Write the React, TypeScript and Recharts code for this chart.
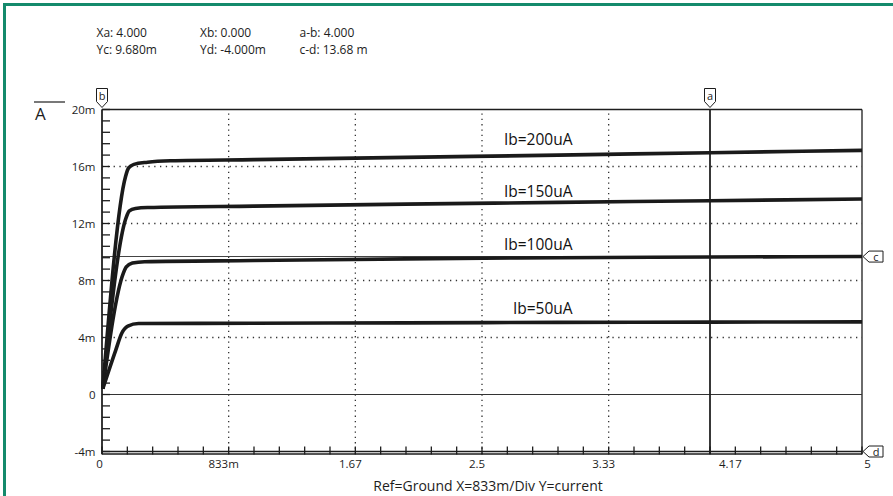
import React from 'react';
import { LineChart, Line, XAxis, YAxis, ReferenceLine, ReferenceDot } from 'recharts';

// Vce (V) and Ic (mA), one curve per base current
const vce200 = [0.005, 0.155, 0.175, 0.21, 0.3, 0.45, 1, 2, 3, 4, 5];
const ic200 = [0.4, 15.3, 15.9, 16.15, 16.3, 16.4, 16.48, 16.64, 16.8, 16.97, 17.13];

const vce150 = [0.005, 0.16, 0.18, 0.22, 0.3, 1, 2, 3, 4, 5];
const ic150 = [0.4, 12.45, 12.88, 13.05, 13.12, 13.22, 13.36, 13.48, 13.6, 13.72];

const vce100 = [0.005, 0.14, 0.16, 0.2, 0.28, 1, 2, 3, 4, 5];
const ic100 = [0.4, 8.5, 8.95, 9.22, 9.32, 9.4, 9.52, 9.6, 9.65, 9.68];

const vce50 = [0.005, 0.09, 0.13, 0.17, 0.24, 1, 2, 3, 4, 5];
const ic50 = [0.4, 3.1, 4.3, 4.8, 4.98, 5.0, 5.03, 5.06, 5.08, 5.1];

const curveNames = ['Ib=200uA', 'Ib=150uA', 'Ib=100uA', 'Ib=50uA'];
const curveLabelX = [2.87, 2.87, 2.87, 2.9];
const curveLabelY = [17.86, 14.23, 10.56, 6.07];

const xMajor = [0, 0.8333, 1.6667, 2.5, 3.3333, 4.1667, 5];
const xTickLabels = ['0', '833m', '1.67', '2.5', '3.33', '4.17', '5'];
const xGrid = [0.8333, 1.6667, 2.5, 3.3333];

const yMajor = [-4, 0, 4, 8, 12, 16, 20];
const yTickLabels = ['-4m', '0', '4m', '8m', '12m', '16m', '20m'];
const yGrid = [4, 8, 12, 16];

// cursors
const cursorA = 4;
const cursorB = 0;
const cursorC = 9.68;
const cursorD = -4;

const readouts = [
  ['Xa: 4.000', 'Xb: 0.000', 'a-b: 4.000'],
  ['Yc: 9.680m', 'Yd: -4.000m', 'c-d: 13.68 m'],
];

const xMinor = Array.from({ length: 31 }, (_, i) => i / 6);
const yMinor = Array.from({ length: 31 }, (_, i) => Math.round((-4 + i * 0.8) * 100) / 100);

const toPoints = (xs: number[], ys: number[]) => xs.map((x, i) => ({ x, y: ys[i] }));
const curves = [
  toPoints(vce200, ic200),
  toPoints(vce150, ic150),
  toPoints(vce100, ic100),
  toPoints(vce50, ic50),
];

const W = 893;
const H = 496;
const PLOT_LEFT = 102;
const PLOT_RIGHT = 862;
const PLOT_TOP = 109.5;
const PLOT_BOTTOM = 454;
const INK = '#1d1d1d';
const FONT = '"Open Sans", sans-serif';

const isMajor = (list: number[], v: number) => list.findIndex((m) => Math.abs(m - v) < 0.01);

function YTick(props: any) {
  const { y, payload } = props;
  const idx = isMajor(yMajor, payload.value);
  return (
    <g>
      <line x1={PLOT_LEFT} x2={PLOT_LEFT + 8} y1={y} y2={y} stroke={INK} strokeWidth={1.3} />
      {idx >= 0 && (
        <text x={PLOT_LEFT - 6.5} y={y} dy={4} textAnchor="end" fontSize={11.5} fill={INK}>
          {yTickLabels[idx]}
        </text>
      )}
    </g>
  );
}

function XTick(props: any) {
  const { x, payload } = props;
  const idx = isMajor(xMajor, payload.value);
  const dx = idx === xMajor.length - 1 ? 5.5 : idx === 0 ? -2.5 : -5;
  return (
    <g>
      <line x1={x} x2={x} y1={PLOT_BOTTOM - 7.5} y2={PLOT_BOTTOM + 0.5} stroke={INK} strokeWidth={1.3} />
      {idx >= 0 && (
        <text x={x + dx} y={PLOT_BOTTOM + 14} textAnchor="middle" fontSize={11.5} fill={INK}>
          {xTickLabels[idx]}
        </text>
      )}
    </g>
  );
}

function TopFlag(props: any) {
  const { viewBox, letter } = props;
  const x = viewBox.x;
  const y = viewBox.y - 2;
  const d = `M${x},${y} L${x - 5.5},${y - 6} L${x - 5.5},${y - 19} L${x + 5.5},${y - 19} L${x + 5.5},${y - 6} Z`;
  return (
    <g>
      <path d={d} fill="#fff" stroke={INK} strokeWidth={1} />
      <text x={x} y={y - 8} textAnchor="middle" fontSize={11} fill={INK}>
        {letter}
      </text>
    </g>
  );
}

function SideFlag(props: any) {
  const { viewBox, letter } = props;
  const x = viewBox.x + viewBox.width + 1;
  const y = viewBox.y;
  const d = `M${x},${y} L${x + 6},${y - 5.5} L${x + 20},${y - 5.5} L${x + 20},${y + 5.5} L${x + 6},${y + 5.5} Z`;
  return (
    <g>
      <path d={d} fill="#fff" stroke={INK} strokeWidth={1} />
      <text x={x + 13} y={y + 4} textAnchor="middle" fontSize={11} fill={INK}>
        {letter}
      </text>
    </g>
  );
}

export default function App() {
  return (
    <div
      style={{
        position: 'absolute',
        left: 0,
        top: 0,
        width: W,
        height: H,
        background: '#fff',
        fontFamily: FONT,
        overflow: 'hidden',
      }}
    >
      <div
        style={{
          position: 'absolute',
          left: 3,
          top: 3,
          width: W + 20,
          height: H + 20,
          borderLeft: '3px solid #148a6c',
          borderTop: '3px solid #148a6c',
        }}
      />
      <LineChart
        width={W}
        height={H}
        margin={{ top: PLOT_TOP, right: W - PLOT_RIGHT, bottom: H - PLOT_BOTTOM - 30, left: 0 }}
      >
        <XAxis
          type="number"
          dataKey="x"
          domain={[0, 5]}
          ticks={xMinor}
          interval={0}
          tick={<XTick />}
          tickLine={false}
          axisLine={{ stroke: INK, strokeWidth: 1.3 }}
          height={30}
          allowDuplicatedCategory={false}
        />
        <YAxis
          type="number"
          domain={[-4.175, 20]}
          ticks={yMinor}
          interval={0}
          tick={<YTick />}
          tickLine={false}
          axisLine={{ stroke: INK, strokeWidth: 1.3 }}
          width={PLOT_LEFT}
        />
        {yGrid.map((v) => (
          <ReferenceLine key={`hg${v}`} y={v} stroke="#333" strokeWidth={1.3} strokeDasharray="1.3 4.5" />
        ))}
        {xGrid.map((v) => (
          <ReferenceLine key={`vg${v}`} x={v} stroke="#333" strokeWidth={1.3} strokeDasharray="1.3 4" />
        ))}
        <ReferenceLine y={20} stroke={INK} strokeWidth={1.3} />
        <ReferenceLine x={5} stroke={INK} strokeWidth={1.3} />
        <ReferenceLine y={0} stroke="#333" strokeWidth={1.2} />
        <ReferenceLine y={cursorC} stroke="#444" strokeWidth={1.1} label={(p: any) => <SideFlag {...p} letter="c" />} />
        <ReferenceLine y={cursorD} stroke={INK} strokeWidth={1.3} label={(p: any) => <SideFlag {...p} letter="d" />} />
        <ReferenceLine x={cursorA} stroke="#222" strokeWidth={1.8} label={(p: any) => <TopFlag {...p} letter="a" />} />
        <ReferenceLine x={cursorB} stroke={INK} strokeWidth={1.3} label={(p: any) => <TopFlag {...p} letter="b" />} />
        {curves.map((pts, i) => (
          <Line
            key={curveNames[i]}
            data={pts}
            dataKey="y"
            type="monotone"
            stroke="#1a1a1a"
            strokeWidth={3.6}
            dot={false}
            isAnimationActive={false}
          />
        ))}
        {curveNames.map((name, i) => (
          <ReferenceDot
            key={`lbl${name}`}
            x={curveLabelX[i]}
            y={curveLabelY[i]}
            r={0}
            fill="none"
            stroke="none"
            label={{ value: name, position: 'center', fontSize: 15.5, fill: '#111' }}
          />
        ))}
      </LineChart>
      <svg width={W} height={H} style={{ position: 'absolute', left: 0, top: 0, pointerEvents: 'none' }}>
        {readouts.map((row, r) =>
          row.map((txt, c) => (
            <text key={`${r}-${c}`} x={[96.5, 200, 299.5][c]} y={36.5 + r * 17} fontSize={12} fill={INK}>
              {txt}
            </text>
          ))
        )}
        <line x1={34} x2={65} y1={102} y2={102} stroke={INK} strokeWidth={1.2} />
        <text x={35} y={119.5} fontSize={17} fill={INK}>
          A
        </text>
        <text x={488} y={491} textAnchor="middle" fontSize={14} fill={INK}>
          Ref=Ground X=833m/Div Y=current
        </text>
      </svg>
    </div>
  );
}
